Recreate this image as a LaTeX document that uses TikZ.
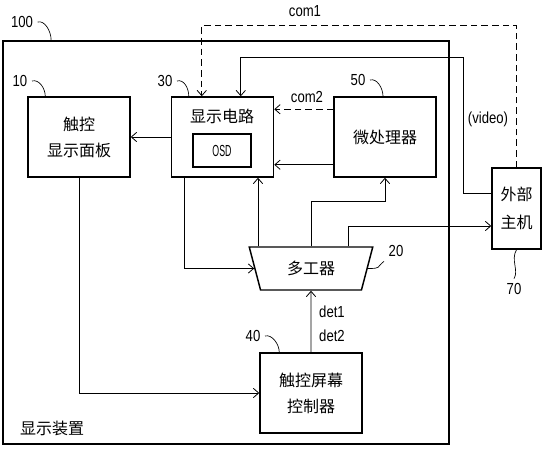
\documentclass[tikz,border=0pt]{standalone}
\usepackage{fontspec}
\setmainfont{Liberation Sans}[FakeStretch=0.82]
\newfontfamily\cjk{Noto Sans CJK SC}
\newfontfamily\osdfont{Liberation Sans}[FakeStretch=0.55]
\usetikzlibrary{shapes.geometric,arrows.meta}

\begin{document}
\begin{tikzpicture}[x=0.75pt,y=0.75pt,yscale=-1,
  >={Straight Barb[length=4pt,width=7pt]},
  box/.style={draw, line width=1.1pt, inner sep=0pt, minimum width=76.5pt, minimum height=60pt},
  wire/.style={line width=0.6pt, ->},
  ctrl/.style={wire, dash pattern=on 5pt off 3pt},
  lead/.style={line width=0.5pt},
  num/.style={font=\fontsize{12}{14}\selectfont},
  zh/.style={font=\cjk\fontsize{12}{19.5}\selectfont, align=center}]
\useasboundingbox (0,0) rectangle (545,450);

%Shape: Rectangle
\node[box, line width=1.3pt, minimum width=334.5pt, minimum height=302.25pt] (b100) at (226,242.5) {};
%Shape: Rectangle
\node[box, zh] (b10) at (79,137) {触控\\显示面板};
%Shape: Rectangle
\node[box] (b30) at (222.5,137) {};
%Shape: Rectangle
\node[box, minimum width=43.5pt, minimum height=24.75pt, font=\osdfont\fontsize{12}{14}\selectfont] (osd) at (222,150.5) {OSD};
%Shape: Rectangle
\node[box, zh] (b50) at (385,137) {微处理器};
%Shape: Rectangle
\node[box, zh, minimum width=36.75pt, minimum height=60.75pt, font=\cjk\fontsize{12}{21}\selectfont] (b70) at (516.5,208.5) {外部\\主机};
%Shape: Rectangle
\node[box, zh] (b40) at (311,393) {触控屏幕\\控制器};
%Shape: Trapezoid
\node[draw, line width=1.1pt, inner sep=0pt, trapezium, trapezium angle=70, shape border rotate=180, trapezium stretches=true, minimum width=93pt, minimum height=32.25pt, zh] (mux) at (311,268.5) {多工器};

% Text Node
\node[zh] (t30) at (222,116) {显示电路};
% Text Node
\node[zh] (t100) at (52,428) {显示装置};
% Text Node
\node[num] (l100) at (22,22) {100};
\node[num] (l10) at (20,81) {10};
\node[num] (l30) at (165,81) {30};
\node[num] (l50) at (358,80) {50};
\node[num] (l40) at (253,336) {40};
\node[num] (l20) at (396,251) {20};
\node[num] (l70) at (514,289) {70};
% Text Node
\node[num] (lcom1) at (305,11) {com1};
\node[num] (lcom2) at (307,97) {com2};
\node[num] (lvid) at (488,119) {(video)};
\node[num] (ldet1) at (332,312) {det1};
\node[num] (ldet2) at (332,336) {det2};

%Curve Lines
\draw[lead] (l100.east) .. controls +(7,-2) and +(0,-9) .. ([xshift=36.75pt]b100.north west);
\draw[lead] (l10.east) .. controls +(7,-2) and +(0,-8) .. ([xshift=13.5pt]b10.north west);
\draw[lead] (l30.east) .. controls +(7,-2) and +(0,-8) .. ([xshift=13.5pt]b30.north west);
\draw[lead] (l50.east) .. controls +(7,-2) and +(0,-8) .. ([xshift=-1.5pt]b50.north);
\draw[lead] (l40.east) .. controls +(7,-2) and +(0,-8) .. ([xshift=15pt]b40.north west);
\draw[lead] (mux.east) .. controls +(14,0) and +(-8,6) .. (l20.south west);
\draw[lead] (b70.south) .. controls +(-6,10) and +(5,-8) .. (l70.north);

%Straight Lines
\draw[wire] (b30.west) -- (b10.east);
\draw[ctrl] ([yshift=9.75pt]b50.north west) -- ([yshift=9.75pt]b30.north east);
\draw[wire] ([yshift=-9.75pt]b50.south west) -- ([yshift=-9.75pt]b30.south east);
\draw[ctrl] (b70.north) -- ++(0,-142) -| ([xshift=23.25pt]b30.north west);
\draw[wire] ([yshift=-11.625pt]b70.west) -- ++(-28,0) -- ++(0,-136) -| ([xshift=52.5pt]b30.north west);

%Straight Lines
\draw[wire] ([xshift=-39.75pt]mux.north) -- ([xshift=-39.75pt]mux.north |- b30.south);
\draw[wire] (mux.north) -- ++(0,-45) -| (b50.south);
\draw[wire] ([xshift=27.75pt]mux.north) |- ([yshift=13.125pt]b70.west);
\draw[wire] ([xshift=10.5pt]b30.south west) |- (mux.west);
\draw[wire] (b10.south) |- (b40.west);
\draw[wire] (b40.north) -- (mux.south);

\end{tikzpicture}
\end{document}
